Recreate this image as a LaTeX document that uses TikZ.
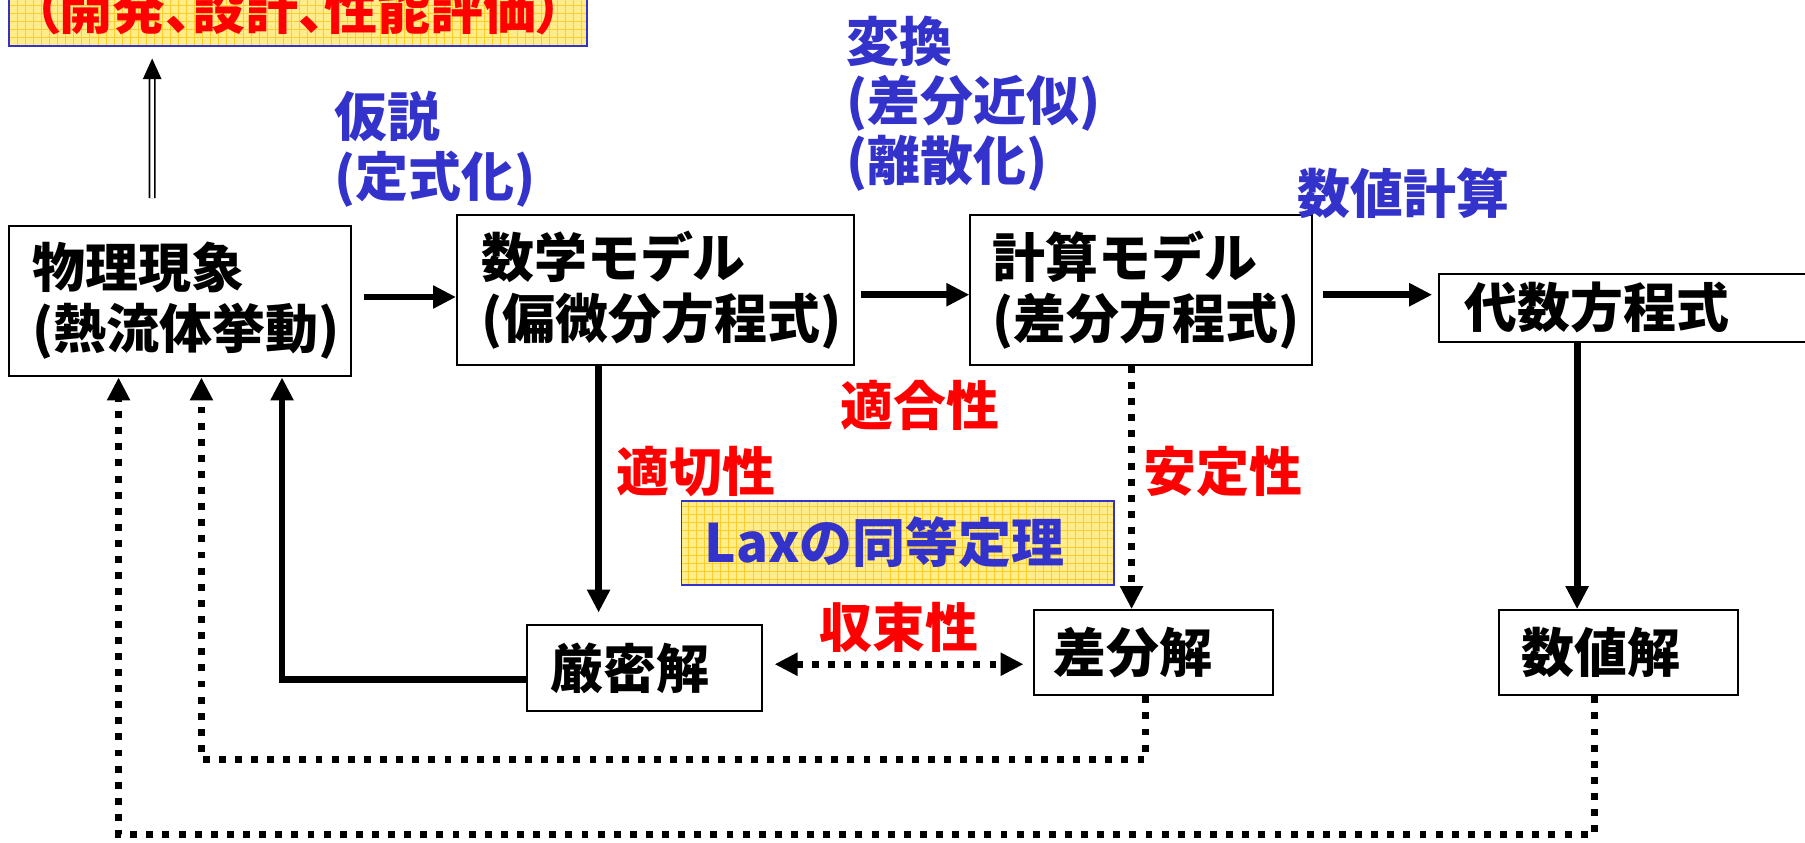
\documentclass[tikz,border=0pt]{standalone}
\usepackage{fontspec}
\newfontfamily\jp{Noto Sans CJK JP}
\newfontfamily\jpp{Noto Sans CJK JP}[RawFeature=+palt]
\usetikzlibrary{arrows.meta,calc}
\definecolor{lblue}{RGB}{51,51,204}
\definecolor{lred}{RGB}{255,0,0}
\definecolor{yfill}{RGB}{255,236,140}
\definecolor{ygrid}{RGB}{255,205,40}
\begin{document}
\begin{tikzpicture}[x=1pt,y=-1pt,
  box/.style={draw=black, line width=1.7pt, fill=white, inner ysep=0pt, align=left,
    font=\jp\bfseries\fontsize{46}{53}\selectfont},
  ybox/.style={draw=lblue, line width=1.6pt, fill=yfill, inner ysep=0pt,
    path picture={\draw[ygrid,line width=0.6pt] (path picture bounding box.south west) grid[step=7pt] (path picture bounding box.north east);}},
  lbl/.style={anchor=west, inner sep=0pt, align=left, font=\jp\bfseries\fontsize{46}{52}\selectfont},
  thickarrow/.style={line width=6pt, -{Triangle[length=20pt,width=19pt]}},
  dotline/.style={line width=6pt, dash pattern=on 6pt off 8pt},
  dotarrow/.style={dotline, -{Triangle[length=20pt,width=19pt]}},
]
\useasboundingbox (0,0) rectangle (1568,732);
\fill[white] (0,0) rectangle (1568,732);
\clip (0,0) rectangle (1568,732);

% top goal box
\node[ybox, minimum width=502pt, minimum height=64pt, text=lred,
  font=\jpp\bfseries\fontsize{46}{52}\selectfont] (goal) at (259,8) {（開発、設計、性能評価）};

% main boxes
\node[box, minimum height=131pt, text width=257pt, inner xsep=20pt] (phys) at (156.5,261.5) {物理現象\\(熱流体挙動)};
\node[box, minimum height=130pt, text width=303pt, inner xsep=21pt] (math) at (569.5,252) {数学モデル\\(偏微分方程式)};
\node[box, minimum height=130pt, text width=259pt, inner xsep=19pt] (comp) at (991.5,252) {計算モデル\\(差分方程式)};
\node[box, minimum height=59pt, text width=306pt, inner xsep=22pt] (alg) at (1425,267.5) {代数方程式};
\node[box, minimum height=74pt, text width=168pt, inner xsep=20pt] (numsol) at (1406,567) {数値解};
\node[box, minimum height=75pt, text width=164pt, inner xsep=20pt] (exact) at (560,580.5) {厳密解};
\node[box, minimum height=74pt, text width=174pt, inner xsep=17pt] (diffsol) at (1002,567) {差分解};

% Lax box
\node[ybox, minimum height=73pt, text width=336pt, inner xsep=20pt, align=left, text=lblue,
  font=\jp\bfseries\fontsize{46}{52}\selectfont] (lax) at (780,471.5) {Laxの同等定理};

% labels
\node[lbl, text=lblue] (hyp) at (290,130) {仮説\\(定式化)};
\node[lbl, text=lblue] (trans) at (735,90) {変換\\(差分近似)\\(離散化)};
\node[lbl, text=lblue] (numcalc) at (1127,168) {数値計算};
\node[lbl, text=lred] (fit) at (730,352) {適合性};
\node[lbl, text=lred] (prop) at (535,410) {適切性};
\node[lbl, text=lred] (stab) at (993,410) {安定性};
\node[lbl, text=lred] (conv) at (712,545) {収束性};

% double arrow up
\draw[double=white, double distance=3pt, line width=1.5pt, -{Triangle[length=18pt,width=16pt]}]
  ($(phys.north west)+(125,-23)$) -- ($(goal.south west)+(125,10)$);

% horizontal arrows
\draw[thickarrow, shorten <=10pt] (phys.east |- 0,258) -- (math.west |- 0,258);
\draw[thickarrow, shorten <=5pt] (math.east |- 0,256) -- (comp.west |- 0,256);
\draw[thickarrow, shorten <=8pt, shorten >=5pt] (comp.east |- 0,256) -- (alg.west |- 0,256);

% vertical arrows
\draw[thickarrow, shorten >=10pt] (math.south -| 520,0) -- (exact.north -| 520,0);
\draw[dotarrow] (comp.south -| 983,0) -- (diffsol.north -| 983,0);
\draw[thickarrow] (alg.south -| 1370,0) -- (numsol.north -| 1370,0);

% convergence double arrow
\draw[dotline, {Triangle[length=20pt,width=19pt]}-{Triangle[length=20pt,width=19pt]}, shorten <=10pt, shorten >=8pt]
  (exact.east |- 0,577) -- (diffsol.west |- 0,577);

% feedback lines
\draw[thickarrow] (exact.west |- 0,590) -| (phys.south -| 245,0);
\draw[dotarrow] (diffsol.south -| 995,0) -- (995,660) -| (phys.south -| 175,0);
\draw[dotarrow] (numsol.south -| 1385,0) -- (1385,725) -| (phys.south -| 103,0);
\end{tikzpicture}
\end{document}
